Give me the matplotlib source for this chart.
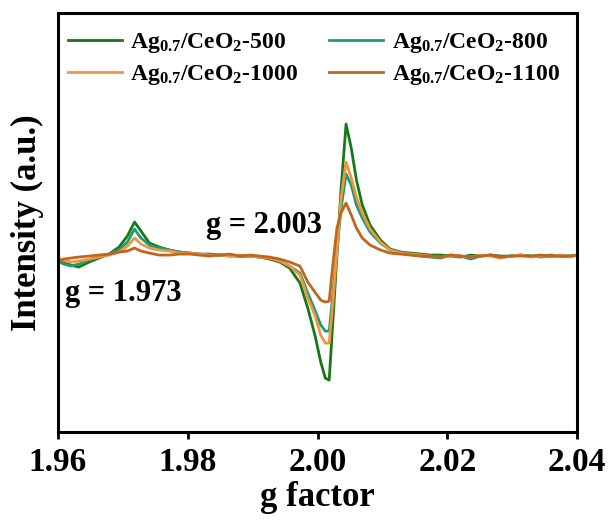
import matplotlib
matplotlib.use('Agg')
import matplotlib.pyplot as plt

plt.rcParams['font.family'] = ['Liberation Serif', 'DejaVu Serif']
plt.rcParams['font.weight'] = 'bold'
plt.rcParams['mathtext.fontset'] = 'custom'
plt.rcParams['mathtext.rm'] = 'Liberation Serif:bold'
plt.rcParams['mathtext.it'] = 'Liberation Serif:bold'
plt.rcParams['mathtext.bf'] = 'Liberation Serif:bold'

# g factor grid
g = [1.9600, 1.9609, 1.9620, 1.9632, 1.9648, 1.9663, 1.9679, 1.9694, 1.9707, 1.9718,
     1.9728, 1.9741, 1.9756, 1.9772, 1.9787, 1.9803, 1.9818, 1.9834, 1.9849, 1.9865,
     1.9880, 1.9896, 1.9911, 1.9926, 1.9942, 1.9957, 1.9973, 1.9985, 1.9996, 2.0005,
     2.0012, 2.0018, 2.0024, 2.0030, 2.0036, 2.0044, 2.0052, 2.0060, 2.0069, 2.0081,
     2.0097, 2.0112, 2.0128, 2.0143, 2.0159, 2.0174, 2.0190, 2.0205, 2.0221, 2.0236,
     2.0251, 2.0267, 2.0282, 2.0298, 2.0313, 2.0329, 2.0344, 2.0360, 2.0375, 2.0390,
     2.0400]

# intensities (a.u.)
i500 = [-5, -8, -10, -12, -7, -3, 1, 8, 19, 33,
        24, 12, 8, 5, 3, 2, 1, 1, 0, 0,
        -1, -1, -2, -4, -7, -13, -28, -53, -80, -107,
        -123, -125, -63, 0, 63, 131, 107, 75, 50, 30,
        15, 6, 3, 2, 1, 0, 0, -1, -2, 0,
        -1, 0, -1, -1, 0, -1, -1, 0, -1, -1,
        0]
i800 = [-6, -9, -11, -9, -5, -2, 1, 5, 13, 26,
        17, 10, 7, 5, 3, 2, 1, 0, 0, -1,
        -1, -1, -2, -3, -6, -11, -18, -38, -55, -70,
        -76, -76, -37, 5, 45, 81, 70, 50, 37, 23,
        12, 5, 3, 1, -1, -2, -3, 0, -1, -4,
        -1, 0, -2, -1, 0, -1, -2, -1, -1, -1,
        0]
i1000 = [-3, -5, -7, -6, -4, -2, 0, 3, 9, 17,
         11, 7, 5, 4, 2, 2, 1, 0, 0, -1,
         0, -1, -2, -3, -6, -11, -20, -43, -60, -80,
         -88, -88, -45, 5, 55, 93, 77, 58, 42, 26,
         13, 5, 2, 1, 0, -1, -2, -1, -1, -2,
         0, -1, -3, -1, 0, -2, -1, -1, 0, -2,
         0]
i1100 = [-7, -4, -3, -2, -1, 0, 1, 3, 4, 7,
         4, 2, 0, 0, 1, 1, 0, -1, 0, 1,
         -1, 0, -1, -2, -4, -7, -11, -27, -37, -45,
         -47, -46, -7, 27, 42, 52, 40, 27, 17, 10,
         5, 2, 1, 0, -1, -1, -2, 0, -1, -2,
         -1, 0, -2, -1, -1, -1, 0, -1, -1, -1,
         0]

labels = [r'Ag$_{0.7}$/CeO$_{2}$-500', r'Ag$_{0.7}$/CeO$_{2}$-800',
          r'Ag$_{0.7}$/CeO$_{2}$-1000', r'Ag$_{0.7}$/CeO$_{2}$-1100']
colors = ['#157a15', '#1f9a78', '#f39440', '#c0651e']
series = [i500, i800, i1000, i1100]

fig = plt.figure(figsize=(6.1, 5.2), dpi=100)
ax = fig.add_axes([0.095, 0.169, 0.851, 0.806])

lines = []
for y, lab, c in zip(series, labels, colors):
    ln, = ax.plot(g, y, color=c, lw=2, label=lab)
    lines.append(ln)

ax.set_xlim(1.96, 2.04)
ax.set_ylim(-177, 242)
ax.set_xticks([1.96, 1.98, 2.00, 2.02, 2.04])
ax.set_xticklabels(['1.96', '1.98', '2.00', '2.02', '2.04'])
ax.set_yticks([])
ax.tick_params(axis='x', direction='out', length=5, width=2, labelsize=24, pad=6)
for s in ax.spines.values():
    s.set_linewidth(2.2)

ax.set_xlabel('g factor', fontsize=25, fontweight='bold', labelpad=2)
ax.set_ylabel('Intensity (a.u.)', fontsize=25, fontweight='bold', labelpad=10)

ax.text(1.9611, -38, 'g = 1.973', fontsize=22, fontweight='bold', va='center')
ax.text(1.9828, 30, 'g = 2.003', fontsize=22, fontweight='bold', va='center')

# row-wise legend order: 500, 800 / 1000, 1100
order = [0, 2, 1, 3]
ax.legend([lines[k] for k in order], [labels[k] for k in order],
          loc='upper left', bbox_to_anchor=(0.001, 0.980), borderaxespad=0,
          ncol=2, frameon=False, fontsize=17,
          handlelength=2.3, columnspacing=1.3, handletextpad=0.35,
          labelspacing=0.35)

fig.savefig('out.png', dpi=100)
